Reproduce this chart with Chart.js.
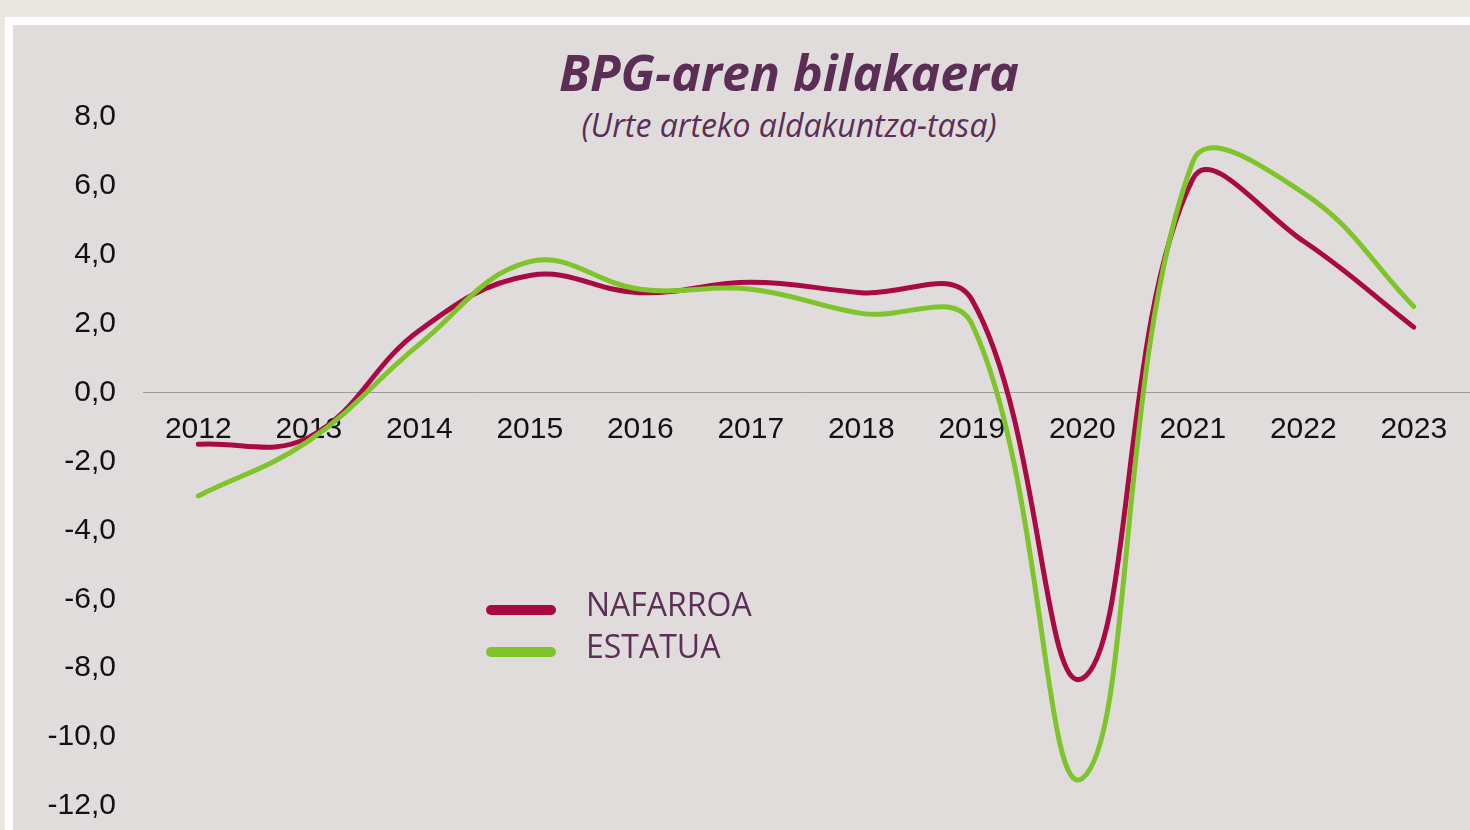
<!DOCTYPE html>
<html>
<head>
<meta charset="utf-8">
<script src="https://cdn.jsdelivr.net/npm/chart.js@4.4.1/dist/chart.umd.min.js"></script>
<style>
  html, body { margin: 0; padding: 0; }
  body { width: 1470px; height: 830px; background: #ebe7e1; position: relative; overflow: hidden; }
  #frame { position: absolute; left: 5px; top: 17px; right: 0; bottom: 0; background: #ffffff; }
  #panel { position: absolute; left: 13px; top: 25px; right: 0; bottom: 0; background: #e0dcdc; }
  #chart { position: absolute; left: 0; top: 0; }
  .title { position: absolute; left: 389px; width: 800px; text-align: center; color: #5c2d55;
           font-family: "Open Sans", sans-serif; font-style: italic; white-space: nowrap; }
  #t1 { top: 42px; font-size: 50px; line-height: 60px; font-weight: 700; }
  #t2 { top: 106px; font-size: 32px; line-height: 38px; font-weight: 400; }
  .leg-swatch { position: absolute; width: 70px; height: 10px; border-radius: 5px; }
  .leg-text { position: absolute; font-family: "Open Sans", sans-serif; font-size: 32px;
              line-height: 42px; color: #5d2f57; white-space: nowrap; }
</style>
</head>
<body>
<div id="frame"></div>
<div id="panel"></div>
<div class="title" id="t1">BPG-aren bilakaera</div>
<div class="title" id="t2">(Urte arteko aldakuntza-tasa)</div>
<canvas id="chart" width="1470" height="851"></canvas>
<div id="legend"></div>
<script>
// ── Data ─────────────────────────────────────────────────────────────────────
const years = ["2012", "2013", "2014", "2015", "2016", "2017", "2018", "2019", "2020", "2021", "2022", "2023"];
const nafarroa = [-1.5, -1.3, 1.8, 3.4, 2.9, 3.2, 2.9, 2.7, -8.3, 6.2, 4.4, 1.9];
const estatua = [-3.0, -1.4, 1.4, 3.8, 3.0, 3.0, 2.3, 2.0, -11.2, 6.7, 5.8, 2.5];
const seriesNames = ["NAFARROA", "ESTATUA"];
const yMin = -12;
const yMax = 8;
const yStep = 2;

const RED = "#a90a44";
const GREEN = "#7ec42a";
const tickFont = { family: "'Liberation Sans', Arial, sans-serif", size: 30 };

const chart = new Chart(document.getElementById("chart"), {
  type: "line",
  data: {
    labels: years,
    datasets: [
      { label: seriesNames[0], data: nafarroa, borderColor: RED, order: 1 },
      { label: seriesNames[1], data: estatua, borderColor: GREEN, order: 0 },
    ].map((d) => ({
      ...d,
      backgroundColor: d.borderColor,
      borderWidth: 5,
      tension: 0.4,
      pointRadius: 0,
      pointHoverRadius: 0,
      borderCapStyle: "round",
      borderJoinStyle: "round",
      fill: false,
    })),
  },
  options: {
    responsive: false,
    devicePixelRatio: 1,
    animation: false,
    // canvas is a bit taller than the page so the -12 tick lands at the bottom edge
    layout: { padding: { left: 43, top: 117, right: 1, bottom: 5 } },
    plugins: {
      legend: { display: false },
      title: { display: false },
      tooltip: { enabled: false },
    },
    scales: {
      x: {
        position: { y: 0 },
        offset: true,
        grid: { display: false, drawTicks: false },
        border: { display: true, color: "#9e9a9a", width: 1 },
        ticks: { font: tickFont, color: "#111111", padding: 19, autoSkip: false, maxRotation: 0 },
      },
      y: {
        min: yMin,
        max: yMax,
        afterFit: (s) => { s.width = 100; },
        grid: { display: false, drawTicks: false },
        border: { display: false },
        ticks: {
          stepSize: yStep,
          font: tickFont,
          color: "#111111",
          padding: 27,
          callback: (v) => v.toFixed(1).replace(".", ","),
        },
      },
    },
  },
});

// ── Legend (built from the datasets) ─────────────────────────────────────────
const legend = document.getElementById("legend");
chart.data.datasets.forEach((ds, i) => {
  const top = 583 + i * 41.5;
  const sw = document.createElement("div");
  sw.className = "leg-swatch";
  sw.style.left = "486px";
  sw.style.top = top + 22 + "px";
  sw.style.background = ds.borderColor;
  legend.appendChild(sw);
  const tx = document.createElement("div");
  tx.className = "leg-text";
  tx.style.left = "586px";
  tx.style.top = top + "px";
  tx.textContent = ds.label;
  legend.appendChild(tx);
});
</script>
</body>
</html>
